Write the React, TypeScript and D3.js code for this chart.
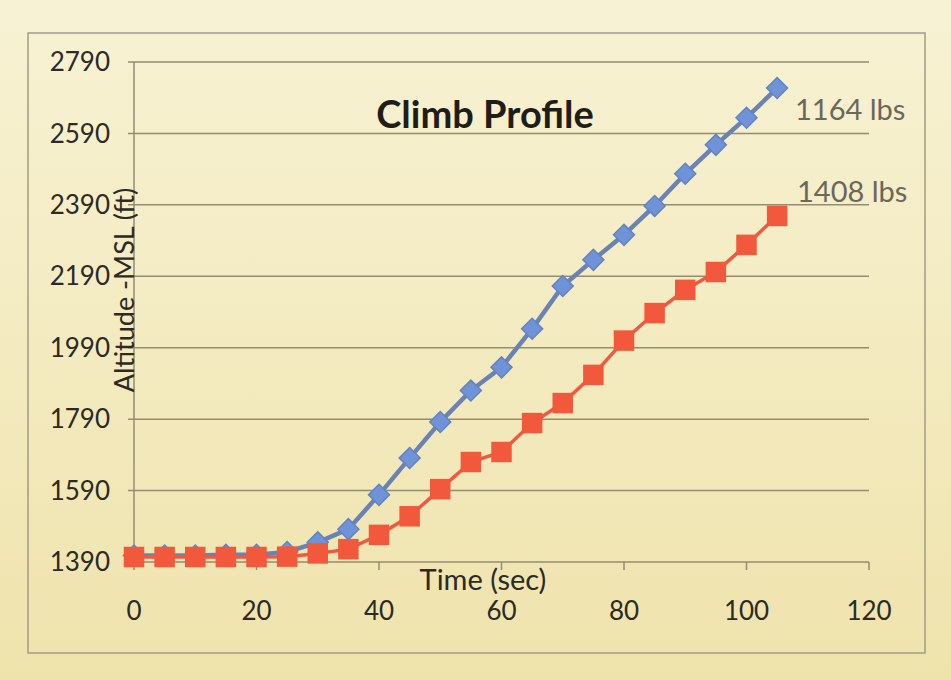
import React, { useEffect, useRef } from 'react';
import * as d3 from 'd3';

const times = [0, 5, 10, 15, 20, 25, 30, 35, 40, 45, 50, 55, 60, 65, 70, 75, 80, 85, 90, 95, 100, 105];
const light = [1408, 1408, 1408, 1410, 1410, 1418, 1445, 1482, 1578, 1681, 1782, 1870, 1935, 2043, 2163, 2236, 2306, 2387, 2477, 2558, 2634, 2717];
const heavy = [1404, 1404, 1404, 1404, 1404, 1405, 1414, 1426, 1466, 1518, 1594, 1670, 1698, 1779, 1835, 1914, 2010, 2087, 2152, 2202, 2278, 2359];
const yTicks = [1390, 1590, 1790, 1990, 2190, 2390, 2590, 2790];
const xTicks = [0, 20, 40, 60, 80, 100, 120];

const W = 951;
const H = 680;
const FONT = 'Lato, "Open Sans", sans-serif';

export default function App() {
  const svgRef = useRef<SVGSVGElement>(null);

  useEffect(() => {
    if (!svgRef.current) return;
    const svg = d3.select(svgRef.current);
    svg.selectAll('*').remove();

    // photo-ish paper background
    const defs = svg.append('defs');
    const grad = defs.append('linearGradient')
      .attr('id', 'paper').attr('x1', 0).attr('y1', 0).attr('x2', 0).attr('y2', 1);
    grad.append('stop').attr('offset', '0%').attr('stop-color', '#f7f2d4');
    grad.append('stop').attr('offset', '100%').attr('stop-color', '#efe3ac');
    svg.append('rect').attr('width', W).attr('height', H).attr('fill', 'url(#paper)');

    // chart frame
    svg.append('rect')
      .attr('x', 28).attr('y', 33).attr('width', 897).attr('height', 620)
      .attr('fill', 'none').attr('stroke', '#a29c84').attr('stroke-width', 1.5);

    const x = d3.scaleLinear().domain([0, 120]).range([134, 869]);
    const y = d3.scaleLinear().domain([1390, 2790]).range([562, 62]);

    // gridlines
    svg.append('g').selectAll('line')
      .data(yTicks.slice(1))
      .enter().append('line')
      .attr('x1', 128).attr('x2', x(120))
      .attr('y1', d => y(d)).attr('y2', d => y(d))
      .attr('stroke', '#938d72').attr('stroke-width', 1.5);

    // y axis line
    svg.append('line')
      .attr('x1', x(0)).attr('x2', x(0))
      .attr('y1', y(2790)).attr('y2', y(1390))
      .attr('stroke', '#938d72').attr('stroke-width', 1.5);

    // x axis line + ticks
    svg.append('line')
      .attr('x1', 128).attr('x2', x(120))
      .attr('y1', y(1390)).attr('y2', y(1390))
      .attr('stroke', '#938d72').attr('stroke-width', 1.5);
    svg.append('g').selectAll('line')
      .data(xTicks)
      .enter().append('line')
      .attr('x1', d => x(d)).attr('x2', d => x(d))
      .attr('y1', y(1390)).attr('y2', y(1390) + 8)
      .attr('stroke', '#938d72').attr('stroke-width', 1.5);

    // tick labels
    svg.append('g').selectAll('text')
      .data(yTicks)
      .enter().append('text')
      .attr('x', 110).attr('y', d => y(d))
      .attr('dy', '0.35em')
      .attr('text-anchor', 'end')
      .attr('fill', '#2b2a24')
      .style('font-family', FONT).style('font-size', '26px')
      .text(d => d);

    svg.append('g').selectAll('text')
      .data(xTicks)
      .enter().append('text')
      .attr('x', d => x(d)).attr('y', 620)
      .attr('text-anchor', 'middle')
      .attr('fill', '#2b2a24')
      .style('font-family', FONT).style('font-size', '26px')
      .text(d => d);

    // axis titles
    svg.append('text')
      .attr('x', 483).attr('y', 590)
      .attr('text-anchor', 'middle')
      .attr('fill', '#2b2a24')
      .style('font-family', FONT).style('font-size', '29px')
      .text('Time (sec)');

    svg.append('text')
      .attr('transform', 'translate(134,290) rotate(-90)')
      .attr('text-anchor', 'middle')
      .attr('fill', '#2b2a24')
      .style('font-family', FONT).style('font-size', '27px')
      .text('Altitude -MSL (ft)');

    svg.append('text')
      .attr('x', 485).attr('y', 128)
      .attr('text-anchor', 'middle')
      .attr('fill', '#1f1d18')
      .style('font-family', FONT).style('font-size', '38px').style('font-weight', 700)
      .text('Climb Profile');

    const line = d3.line<number>()
      .x((_, i) => x(times[i]))
      .y(d => y(d));

    // light series (blue diamonds)
    svg.append('path')
      .attr('d', line(light))
      .attr('fill', 'none').attr('stroke', '#6a83b3').attr('stroke-width', 4.5);
    svg.append('g').selectAll('path')
      .data(light)
      .enter().append('path')
      .attr('transform', (d, i) => `translate(${x(times[i])},${y(d)}) rotate(45)`)
      .attr('d', d3.symbol(d3.symbolSquare, 220)())
      .attr('fill', '#6f93d6').attr('stroke', '#6384c4').attr('stroke-width', 1.5);

    // heavy series (red squares), drawn on top
    svg.append('path')
      .attr('d', line(heavy))
      .attr('fill', 'none').attr('stroke', '#ee5a40').attr('stroke-width', 3.5);
    svg.append('g').selectAll('path')
      .data(heavy)
      .enter().append('path')
      .attr('transform', (d, i) => `translate(${x(times[i])},${y(d)})`)
      .attr('d', d3.symbol(d3.symbolSquare, 420)())
      .attr('fill', '#f2583c');

    // series labels
    svg.append('text')
      .attr('x', 795).attr('y', 120)
      .attr('fill', '#6b675a')
      .style('font-family', FONT).style('font-size', '29px')
      .text('1164 lbs');
    svg.append('text')
      .attr('x', 797).attr('y', 202)
      .attr('fill', '#6b675a')
      .style('font-family', FONT).style('font-size', '29px')
      .text('1408 lbs');
  }, []);

  return (
    <div style={{ position: 'absolute', left: 0, top: 0 }}>
      <svg ref={svgRef} width={W} height={H}></svg>
    </div>
  );
}
